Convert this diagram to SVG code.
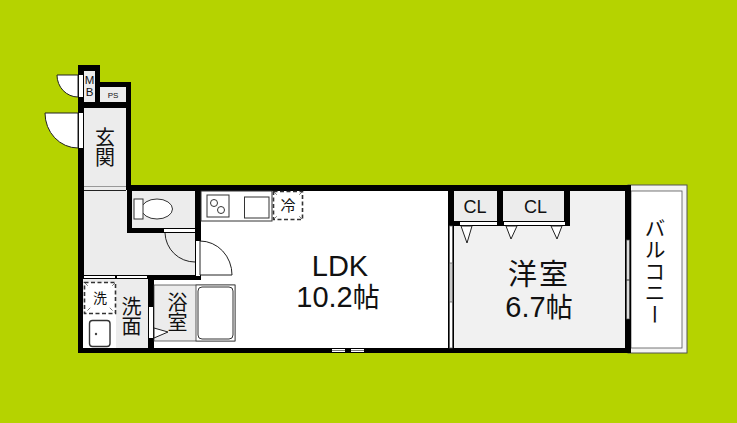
<svg xmlns="http://www.w3.org/2000/svg" width="737" height="423" viewBox="0 0 737 423">
<style>
.wall{fill:#000}
.room{fill:#ececec}
.white{fill:#fff}
.thin{fill:none;stroke:#222;stroke-width:1}
.door{fill:#fff;stroke:#222;stroke-width:1}
.fix{fill:#fff;stroke:#333;stroke-width:1}
.dash{fill:#fff;stroke:#333;stroke-width:1.6;stroke-dasharray:4 2.5}
.diag{stroke:#555;stroke-width:.8;stroke-dasharray:4 3;fill:none}
text{fill:#111;text-anchor:middle}
.lat{font-family:"Liberation Sans","Noto Sans CJK JP",sans-serif}
.cjk{font-family:"Noto Sans CJK JP","Liberation Sans",sans-serif}
.v{writing-mode:vertical-rl}
</style>
<rect width="737" height="423" fill="#b5d300"/>
<g id="balcony">
<rect x="628" y="185" width="59" height="168" fill="#f4f4f4" stroke="#555" stroke-width="1"/>
<rect x="631" y="191" width="51" height="157" class="white" stroke="#555" stroke-width=".8"/>
<text class="cjk v" font-size="21" x="655" y="271" letter-spacing=".5">バルコニー</text>
</g>
<g id="walls">
<rect class="wall" x="78" y="65" width="22" height="43"/>
<rect class="wall" x="78" y="82" width="53" height="26"/>
<rect class="wall" x="78" y="65" width="6" height="288"/>
<rect class="wall" x="126" y="82" width="5" height="110"/>
<rect class="wall" x="127" y="185" width="504" height="6"/>
<rect class="wall" x="127" y="185" width="5" height="48"/>
<rect class="wall" x="127" y="228" width="74" height="5"/>
<rect class="wall" x="195" y="185" width="6" height="91"/>
<rect class="wall" x="78" y="348" width="553" height="5"/>
<rect class="wall" x="148" y="275" width="98" height="5"/>
<rect class="wall" x="148" y="275" width="6" height="78"/>
<rect class="wall" x="241" y="275" width="5" height="78"/>
<rect class="wall" x="448" y="185" width="6" height="168"/>
<rect class="wall" x="625" y="185" width="6" height="168"/>
<rect class="wall" x="448" y="221" width="122" height="5"/>
<rect class="wall" x="497" y="185" width="6" height="41"/>
<rect class="wall" x="564" y="185" width="6" height="41"/>
<rect class="wall" x="83" y="275" width="65" height="4"/>
</g>
<g id="mb">
<rect class="room" x="84" y="71" width="11" height="31"/>
<text class="lat v" font-size="11.500" x="89.500" y="86" style="text-orientation:upright">MB</text>
<path class="door" d="M78 97A21 22 0 0 1 57 75H78Z"/>
<rect class="white" x="79" y="75" width="4" height="22"/>
</g>
<g id="ps">
<rect class="room" x="100" y="87" width="26" height="15"/>
<text class="lat" font-size="8" x="113" y="97.500">PS</text>
</g>
<g id="genkan">
<rect class="room" x="84" y="108" width="42" height="83"/>
<path d="M84 186.500H126" stroke="#999" stroke-width="1"/>
<path class="door" d="M78 148A33 35 0 0 1 45 113H78Z"/>
<rect class="white" x="79" y="113" width="4" height="35"/>
<text class="cjk v" font-size="20" x="105" y="147">玄関</text>
</g>
<g id="hall">
<path class="room" d="M84 190H127V233H195V275H84Z"/>
<path class="thin" d="M84 190.500H126"/>
</g>
<g id="toilet">
<rect class="room" x="132" y="191" width="63" height="37"/>
<ellipse cx="157" cy="209" rx="15.500" ry="10" class="fix"/>
<rect class="fix" x="134" y="199" width="9" height="20"/>
<rect class="white" x="164" y="229" width="31" height="3"/>
<path class="thin" d="M165 233A30 30 0 0 0 195 262"/>
</g>
<g id="ldk">
<rect class="white" x="201" y="191" width="247" height="157"/>
<rect class="fix" x="201" y="191" width="71" height="30"/>
<rect class="fix" x="207" y="195" width="22" height="22"/>
<circle class="fix" cx="214" cy="203" r="3.500"/>
<circle class="fix" cx="221" cy="210" r="3.500"/>
<rect class="fix" x="244.500" y="197" width="24.500" height="21"/>
<rect class="dash" x="273.500" y="191.500" width="29" height="28"/>
<path class="diag" d="M274 192L302 219M302 192L274 219"/>
<rect class="white" x="278" y="196" width="20" height="19"/>
<text class="cjk" font-size="15" x="288" y="211">冷</text>
<rect class="white" x="196" y="241" width="4" height="35"/>
<path class="door" d="M200 241A32 34 0 0 1 232 275H200Z"/>
<text class="lat" font-size="29" x="340" y="276">LDK</text>
<text class="lat" font-size="29" x="338" y="307">10.2<tspan font-size="27">帖</tspan></text>
<rect class="white" x="332" y="349" width="13" height="3"/>
<rect class="white" x="351" y="349" width="13" height="3"/>
<path d="M332 350.500H345M351 350.500H364" stroke="#444" stroke-width=".7"/>
</g>
<g id="bath">
<rect class="white" x="154" y="280" width="87" height="68"/>
<rect class="room" x="154" y="285" width="81" height="56" stroke="#333" stroke-width=".7"/>
<rect x="196" y="285" width="39" height="56" fill="#fff" stroke="#333" stroke-width=".8"/>
<rect class="fix" x="198" y="287" width="35" height="52" rx="4"/>
<rect class="white" x="149" y="307" width="4" height="31"/>
<path class="door" d="M154 328L168 332L154 338Z"/>
<text class="cjk v" font-size="20" x="177.500" y="312.500">浴室</text>
</g>
<g id="senmen">
<path class="room" d="M83 279H148V348H83Z"/>
<rect class="white" x="83" y="313" width="33" height="35"/>
<rect class="white" x="84" y="276" width="31" height="2"/>
<rect class="white" x="117" y="276" width="30" height="2"/>
<rect class="dash" x="84.500" y="282.500" width="31" height="31"/>
<path class="diag" d="M85 283L115 313M115 283L85 313"/>
<rect class="white" x="90" y="288" width="20" height="19"/>
<text class="cjk" font-size="14" x="100" y="303">洗</text>
<rect class="fix" x="89.500" y="320.500" width="20.500" height="26" rx="3" style="stroke-width:1.400"/>
<circle cx="96" cy="334" r="1.200" fill="#444"/>
<text class="cjk v" font-size="20" x="131.500" y="316">洗面</text>
</g>
<g id="room">
<rect x="454" y="226" width="171" height="122" fill="#f1f1f1"/>
<rect x="570" y="191" width="55" height="35" fill="#f1f1f1"/>
<rect x="449.500" y="226" width="3" height="122" class="white" stroke="#555" stroke-width=".7"/>
<rect x="449.500" y="263" width="3" height="39" fill="#ccc" stroke="#555" stroke-width=".7"/>
<rect x="626.500" y="240" width="3" height="79" fill="#ddd" stroke="#444" stroke-width=".7"/>
<path d="M626 280H630" stroke="#333"/>
<text class="lat" font-size="29"><tspan x="539" y="285" letter-spacing="2">洋室</tspan><tspan x="539" y="317">6.7<tspan font-size="27">帖</tspan></tspan></text>
</g>
<g id="cl1">
<rect class="room" x="454" y="191" width="43" height="30"/>
<rect class="white" x="460" y="222" width="37" height="3"/>
<path class="door" d="M461 226H472L467 243Z"/>
<text class="lat" font-size="18" x="475" y="213">CL</text>
</g>
<g id="cl2">
<rect class="room" x="503" y="191" width="61" height="30"/>
<rect class="white" x="504" y="222" width="61" height="3"/>
<path class="door" d="M506 226H517L511 239Z"/>
<path class="door" d="M551 226H562L557 239Z"/>
<text class="lat" font-size="18" x="535.500" y="213">CL</text>
</g>
</svg>
